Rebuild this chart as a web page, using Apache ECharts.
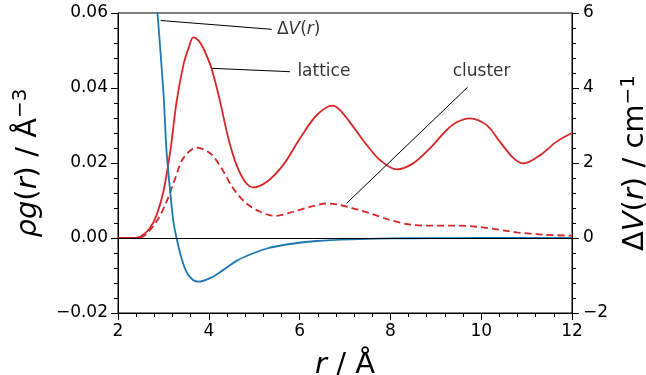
<!DOCTYPE html>
<html>
<head>
<meta charset="utf-8">
<script src="https://cdn.jsdelivr.net/npm/echarts@6/dist/echarts.min.js"></script>
<style>
  html, body { margin: 0; padding: 0; background: #fff; }
  #chart { width: 646px; height: 375px; }
</style>
</head>
<body>
<div id="chart"></div>
<script>
// lattice rho g(r), solid red (left axis)
const latticeR = [2.0, 2.3, 2.5, 2.7, 2.85, 3.0, 3.15, 3.29, 3.44, 3.55, 3.66, 3.77, 3.88, 4.06, 4.25, 4.43, 4.61, 4.8, 4.98, 5.28, 5.64, 6.01, 6.38, 6.73, 6.89, 7.18, 7.48, 7.77, 8.14, 8.5, 8.87, 9.24, 9.45, 9.75, 10.12, 10.41, 10.71, 10.93, 11.3, 11.66, 12.0]
const latticeG = [0, 0, 0.0004, 0.0026, 0.0061, 0.0124, 0.023, 0.0363, 0.0461, 0.0505, 0.0535, 0.0527, 0.0506, 0.0452, 0.0363, 0.0266, 0.0195, 0.015, 0.0135, 0.015, 0.0195, 0.0266, 0.0328, 0.0353, 0.0341, 0.0297, 0.0248, 0.0208, 0.0183, 0.0199, 0.0239, 0.0288, 0.0308, 0.0319, 0.0301, 0.0257, 0.0213, 0.0199, 0.0221, 0.0257, 0.028]

// cluster rho g(r), dashed red (left axis)
const clusterR = [2.0, 2.4, 2.55, 2.7, 2.89, 3.07, 3.26, 3.44, 3.73, 4.03, 4.28, 4.54, 4.83, 5.13, 5.46, 5.86, 6.23, 6.6, 6.96, 7.55, 7.99, 8.43, 8.87, 9.46, 9.9, 10.34, 10.78, 11.37, 12.0]
const clusterG = [0, 0, 0.0004, 0.002, 0.0052, 0.0097, 0.0159, 0.0213, 0.0241, 0.0226, 0.0186, 0.0132, 0.0092, 0.007, 0.0059, 0.007, 0.0083, 0.0092, 0.0086, 0.0066, 0.0048, 0.0036, 0.0033, 0.0033, 0.003, 0.0023, 0.0015, 0.0009, 0.0006]

// Delta V(r), blue (right axis)
const dvR = [2.8, 2.87, 3.0, 3.07, 3.15, 3.22, 3.29, 3.4, 3.55, 3.77, 4.03, 4.32, 4.61, 4.91, 5.28, 5.79, 6.38, 7.11, 8.0, 9.0, 10.0, 12.0]
const dvV = [7.2, 6.0, 3.9, 2.3, 1.24, 0.44, 0, -0.54, -0.99, -1.165, -1.07, -0.85, -0.61, -0.44, -0.28, -0.16, -0.08, -0.035, -0.012, -0.004, 0, 0]

// annotations (left-axis data coords)
const annoNames = ['dv', 'lattice', 'cluster']
const annoTextAt = [[5.49, 0.0555], [5.94, 0.0444], [10.01, 0.0443]]
const annoLineFrom = [[2.94, 0.058], [4.064, 0.04525], [9.70, 0.0402]]
const annoLineTo = [[5.385, 0.05565], [5.789, 0.04435], [7.035, 0.00925]]

const xTicks = { min: 2, max: 12, interval: 2 }
const yLeftTicks = { min: -0.02, max: 0.06, interval: 0.02 }
const yRightTicks = { min: -2, max: 6, interval: 2 }

const FONT = 'DejaVu Sans'
const zip = (a, b) => a.map((v, i) => [v, b[i]])
const minus = (s) => s.replace('-', '\u2212')

const chart = echarts.init(document.getElementById('chart'))

const annoFormat = {
  dv: '{n|\u0394}{i|V}{n|(}{i|r}{n|)}',
  lattice: '{n|lattice}',
  cluster: '{n|cluster}',
}
const annoRich = {
  n: { fontFamily: FONT, fontSize: 17, color: '#000' },
  i: { fontFamily: FONT, fontSize: 17, fontStyle: 'italic', color: '#000' },
}
const titleRich = {
  n: { fontFamily: FONT, fontSize: 29, color: '#000', lineHeight: 34 },
  i: { fontFamily: FONT, fontSize: 29, fontStyle: 'italic', color: '#000', lineHeight: 34 },
  s: { fontFamily: FONT, fontSize: 20, color: '#000', verticalAlign: 'top', lineHeight: 34, padding: [0, 0, 14, 0] },
}
const tickLabel = { fontFamily: FONT, fontSize: 17, color: '#000' }
const blackLine = { color: '#000', width: 1 }
// smooth ~1/3 behaves like a Catmull-Rom spline, no overshoot wobble
const curve = { smooth: 0.33, showSymbol: false }

chart.setOption({
  animation: false,
  grid: {
    left: 118, right: 74, top: 13, bottom: 62,
    outerBoundsMode: 'none',
    containLabel: false,
    show: true, borderColor: '#000', borderWidth: 1, backgroundColor: 'transparent',
  },
  xAxis: {
    type: 'value', ...xTicks,
    axisLine: { onZero: false, lineStyle: blackLine },
    axisTick: { length: 7, lineStyle: blackLine },
    minorTick: { show: true, splitNumber: 5, length: 4, lineStyle: blackLine },
    splitLine: { show: false },
    axisLabel: { ...tickLabel, margin: 10 },
    name: '{i|r}{n| / \u00c5}',
    nameLocation: 'middle',
    nameGap: 35,
    nameTextStyle: { rich: titleRich },
  },
  yAxis: [
    {
      type: 'value', ...yLeftTicks,
      axisLine: { show: true, onZero: false, lineStyle: blackLine },
      axisTick: { length: 7, lineStyle: blackLine },
      minorTick: { show: true, splitNumber: 5, length: 4, lineStyle: blackLine },
      splitLine: { show: false },
      axisLabel: { ...tickLabel, margin: 10, formatter: (v) => minus(v.toFixed(2)) },
      name: '{i|\u03c1g}{n|(}{i|r}{n|) / \u00c5}{s|\u22123}',
      nameLocation: 'middle',
      nameRotate: 90,
      nameGap: 68,
      nameTextStyle: { rich: titleRich },
    },
    {
      type: 'value', ...yRightTicks,
      position: 'right',
      axisLine: { show: true, onZero: false, lineStyle: blackLine },
      axisTick: { length: 7, lineStyle: blackLine },
      minorTick: { show: true, splitNumber: 5, length: 4, lineStyle: blackLine },
      splitLine: { show: false },
      axisLabel: { ...tickLabel, margin: 11, formatter: (v) => minus(String(v)) },
      name: '{n|\u0394}{i|V}{n|(}{i|r}{n|) / cm}{s|\u22121}',
      nameLocation: 'middle',
      nameRotate: 90,
      nameGap: 42,
      nameTextStyle: { rich: titleRich },
    },
  ],
  series: [
    {
      name: 'lattice',
      type: 'line',
      yAxisIndex: 0,
      data: zip(latticeR, latticeG),
      ...curve,
      lineStyle: { color: '#d62728', width: 1.8 },
      z: 3,
      markLine: {
        silent: true,
        symbol: 'none',
        label: { show: false },
        lineStyle: { color: '#000', width: 1, type: 'solid' },
        data: [{ yAxis: 0 }],
      },
    },
    {
      name: 'cluster',
      type: 'line',
      yAxisIndex: 0,
      data: zip(clusterR, clusterG),
      ...curve,
      lineStyle: { color: '#d62728', width: 1.8, type: [7, 4] },
      z: 3,
    },
    {
      name: 'dv',
      type: 'line',
      yAxisIndex: 1,
      data: zip(dvR, dvV),
      ...curve,
      clip: true,
      lineStyle: { color: '#1f77b4', width: 1.8 },
      z: 4,
    },
    {
      name: 'annotations',
      type: 'scatter',
      yAxisIndex: 0,
      symbolSize: 1,
      itemStyle: { color: 'rgba(0,0,0,0)' },
      z: 5,
      data: annoNames.map((n, i) => ({
        name: n,
        value: annoTextAt[i],
        label: {
          show: true,
          position: n === 'cluster' ? 'inside' : 'right',
          distance: 0,
          formatter: annoFormat[n],
          rich: annoRich,
        },
      })),
      markLine: {
        silent: true,
        symbol: 'none',
        label: { show: false },
        lineStyle: { color: '#000', width: 1, type: 'solid' },
        data: annoNames.map((n, i) => [{ coord: annoLineFrom[i] }, { coord: annoLineTo[i] }]),
      },
    },
  ],
})
</script>
</body>
</html>
